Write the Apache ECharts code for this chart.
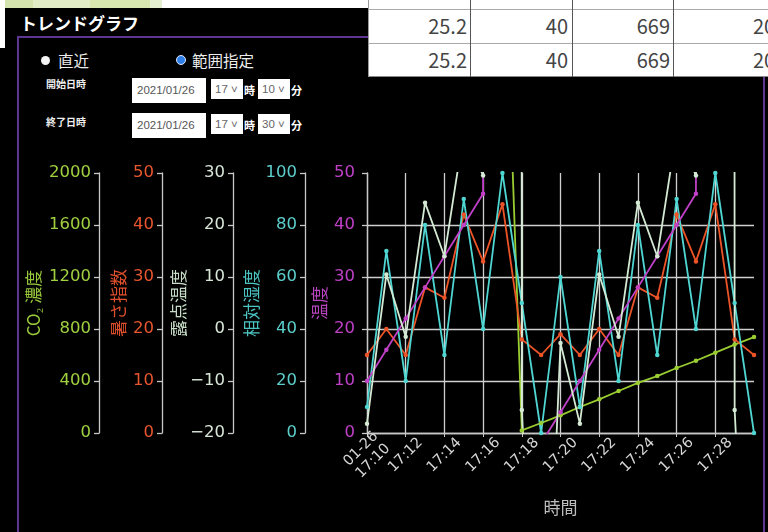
<!DOCTYPE html>
<html><head><meta charset="utf-8">
<script src="https://cdn.jsdelivr.net/npm/echarts@6/dist/echarts.min.js"></script>
<style>
html,body{margin:0;padding:0;width:768px;height:532px;overflow:hidden;background:#000;font-family:"Noto Sans CJK JP","Noto Sans",sans-serif;}
.abs{position:absolute;}
#topGreen{left:0;top:0;width:162px;height:8px;background:linear-gradient(to right,#d5e4ae 0,#d5e4ae 33px,#e2ecc6 33px,#e2ecc6 90px,#d8e6b0 90px,#d8e6b0 150px,#e4eed0 150px);}
#topWhite{left:162px;top:0;width:606px;height:8px;background:#fff;}
#leftWhite{left:0;top:0;width:5px;height:48px;background:#fff;}
#title{left:20px;top:11px;color:#fff;font-weight:bold;font-size:17px;line-height:24px;}
#box{left:17px;top:36px;width:744px;height:600px;border:2px solid #5e3691;}
.radio{width:9px;height:9px;border-radius:50%;}
.rtxt{color:#eee;font-size:15.5px;line-height:20px;}
.lbl{color:#eee;font-size:10px;font-weight:bold;line-height:14px;}
.inp{background:#fff;color:#555;font-family:"Liberation Sans",sans-serif;font-size:11.5px;line-height:24px;padding-left:5px;box-sizing:border-box;}
.sel{background:#fff;color:#666;font-family:"Liberation Sans",sans-serif;font-size:11.5px;line-height:20px;padding-left:4px;box-sizing:border-box;}
.unit{color:#fff;font-size:11px;font-weight:bold;line-height:14px;}
#table{left:368px;top:0;width:400px;height:77px;background:#fff;border-left:1px solid #999;box-sizing:border-box;}
.hl{height:1px;background:#aaa;}
.vl{width:1px;background:#555;}
.cell{color:#444;font-size:20px;line-height:24px;text-align:right;font-family:"Noto Sans CJK JP","Noto Sans",sans-serif;}
#chart{left:0;top:0;width:768px;height:532px;z-index:2;}
</style></head>
<body>
<div class="abs" id="topGreen"></div>
<div class="abs" id="topWhite"></div>
<div class="abs" id="leftWhite"></div>
<div class="abs" id="title">トレンドグラフ</div>
<div class="abs" id="box"></div>

<div class="abs radio" style="left:41px;top:56px;background:#f4f4f4;"></div>
<div class="abs rtxt" style="left:58px;top:50px;">直近</div>
<div class="abs radio" style="left:176px;top:55px;background:#2f7fe8;border:1.5px solid #dfe9ff;width:8px;height:8px;"></div>
<div class="abs rtxt" style="left:192px;top:50px;">範囲指定</div>

<div class="abs lbl" style="left:46px;top:77px;">開始日時</div>
<div class="abs inp" style="left:132px;top:78px;width:74px;height:25px;">2021/01/26</div>
<div class="abs sel" style="left:211px;top:79px;width:32px;height:20px;">17 ˅</div>
<div class="abs unit" style="left:244px;top:83px;">時</div>
<div class="abs sel" style="left:258px;top:79px;width:32px;height:20px;">10 ˅</div>
<div class="abs unit" style="left:291px;top:83px;">分</div>

<div class="abs lbl" style="left:46px;top:115px;">終了日時</div>
<div class="abs inp" style="left:132px;top:113px;width:74px;height:25px;">2021/01/26</div>
<div class="abs sel" style="left:211px;top:114px;width:32px;height:20px;">17 ˅</div>
<div class="abs unit" style="left:244px;top:118px;">時</div>
<div class="abs sel" style="left:258px;top:114px;width:32px;height:20px;">30 ˅</div>
<div class="abs unit" style="left:291px;top:118px;">分</div>

<div class="abs" id="table">
  <div class="abs hl" style="left:0;top:9px;width:400px;"></div>
  <div class="abs hl" style="left:0;top:43px;width:400px;"></div>
  <div class="abs hl" style="left:0;top:76px;width:400px;background:#888;"></div>
  <div class="abs vl" style="left:101px;top:0;height:77px;"></div>
  <div class="abs vl" style="left:203px;top:0;height:77px;"></div>
  <div class="abs vl" style="left:304px;top:0;height:77px;"></div>
  <div class="abs cell" style="left:0;top:14px;width:98px;">25.2</div>
  <div class="abs cell" style="left:102px;top:14px;width:97px;">40</div>
  <div class="abs cell" style="left:204px;top:14px;width:97px;">669</div>
  <div class="abs cell" style="left:384px;top:14px;width:40px;text-align:left;">20</div>
  <div class="abs cell" style="left:0;top:48px;width:98px;">25.2</div>
  <div class="abs cell" style="left:102px;top:48px;width:97px;">40</div>
  <div class="abs cell" style="left:204px;top:48px;width:97px;">669</div>
  <div class="abs cell" style="left:384px;top:48px;width:40px;text-align:left;">20</div>
</div>

<div class="abs" id="chart"></div>
<script>
// ---- data (one point per minute, 2021-01-26); null = no reading ----
const times = ['17:10','17:11','17:12','17:13','17:14','17:15','17:16','17:17','17:18','17:19','17:20',
               '17:21','17:22','17:23','17:24','17:25','17:26','17:27','17:28','17:29','17:30'];
const co2 = [null,null,null,null,null,null,null,4260,20,77,136,200,259,323,385,438,500,556,618,680,738];
const heatIndex = [15,20,15,28,26,42,33,44,18,15,19,15,20,15,28,26,42,33,44,18,15];
const dewPoint = [-18.2,10.5,-1.5,24.3,14,38,29.5,9000,-15.6,-90,-2.7,-18.2,10.5,-1.5,24.3,14,38,29.5,9000,-15.6,-90];
const humidity = [10,70,20,80,30,90,40,100,50,0,60,10,70,20,80,30,90,40,100,50,0];
const temperature = [10,16,22,28,34,40,46,9999,null,-2,4,10,16,22,28,34,40,46,9999,null,-2];
const xTickLabels = ['01-26\n17:10','17:12','17:14','17:16','17:18','17:20','17:22','17:24','17:26','17:28'];
const co2Ticks = [0,400,800,1200,1600,2000];

const C = {co2:'#9acd32', heat:'#ec5428', dew:'#d4ead4', rh:'#4fd6d2', temp:'#c040c8'};
const minuteOf = t => parseInt(t.split(':')[1],10) - 10;
const pairs = arr => times.map((t,i)=>[minuteOf(t), arr[i]]);

const chart = echarts.init(document.getElementById('chart'), null, {renderer:'canvas'});
const numFont = 'DejaVu Sans';
const nameFont = 'Noto Sans CJK JP';
const plain = v => String(v).replace('-', '\u2212');
function yAx(o){
  return Object.assign({
    type:'value', position:'left',
    axisLine:{show:true, lineStyle:{color:'#c8c8c8', width:1.3}},
    axisTick:{show:true, length:5, lineStyle:{color:'#c8c8c8', width:1.3}},
    splitLine:{show:false},
    nameLocation:'middle', nameRotate:90, nameMoveOverlap:false,
  }, o);
}
function lab(color){ return {color:color, fontFamily:numFont, fontSize:16.5, margin:8, formatter:plain}; }
function nm(color){ return {color:color, fontFamily:nameFont, fontSize:17}; }
const option = {
  backgroundColor:'transparent',
  animation:false,
  grid:{left:367, right:14, top:173, bottom:99, containLabel:false},
  xAxis:{
    type:'value', min:0, max:20, interval:2,
    name:'時間', nameLocation:'middle', nameGap:66, nameMoveOverlap:false,
    nameTextStyle:{color:'#bdbdbd', fontFamily:nameFont, fontSize:17},
    axisLine:{show:true, lineStyle:{color:'#c8c8c8', width:1.3}},
    axisTick:{show:true, length:4, lineStyle:{color:'#c8c8c8'}},
    axisLabel:{rotate:45, margin:22, align:'center', verticalAlign:'middle', color:'#d6d6d6',
      fontFamily:numFont, fontSize:14.5, lineHeight:17, showMinLabel:true, showMaxLabel:false, hideOverlap:false,
      formatter:v=> (v%2===0 && v/2 < xTickLabels.length) ? xTickLabels[v/2] : ''},
    splitLine:{show:true, showMaxLine:false, lineStyle:{color:'#cfcfcf', width:1.3}}
  },
  yAxis:[
    yAx({min:0,max:50,interval:10,offset:4,name:'温度',nameGap:35,nameTextStyle:nm('#b844c0'),
      axisLabel:lab(C.temp),
      splitLine:{show:true,showMaxLine:false,lineStyle:{color:'#cfcfcf',width:1.3}}}),
    yAx({min:0,max:100,interval:20,offset:62,name:'相対湿度',nameGap:45,nameTextStyle:nm('#4cc4c2'),
      axisLabel:lab('#5ccfcc')}),
    yAx({min:-20,max:30,interval:10,offset:134,name:'露点温度',nameGap:46,nameTextStyle:nm('#c6dcc6'),
      axisLabel:lab('#d8e6d8')}),
    yAx({min:0,max:50,interval:10,offset:205,name:'暑さ指数',nameGap:35,nameTextStyle:nm('#e0502c'),
      axisLabel:lab('#e8562e')}),
    yAx({min:co2Ticks[0],max:co2Ticks[co2Ticks.length-1],interval:co2Ticks[1]-co2Ticks[0],offset:268,
      name:'CO\u2082 濃度',nameGap:57,nameTextStyle:nm('#98c83a'),
      axisLabel:lab('#a0d040')})
  ],
  series:[
    {name:'CO2', data:pairs(co2), yAxisIndex:4, color:C.co2},
    {name:'暑さ指数', data:pairs(heatIndex), yAxisIndex:3, color:C.heat},
    {name:'相対湿度', data:pairs(humidity), yAxisIndex:1, color:C.rh},
    {name:'温度', data:pairs(temperature), yAxisIndex:0, color:C.temp},
    {name:'露点温度', data:pairs(dewPoint), yAxisIndex:2, color:C.dew}
  ].map(s=>Object.assign({
    type:'line', clip:true, connectNulls:false, symbol:'circle', symbolSize:4.5, showSymbol:true,
    lineStyle:{width:1.8, color:s.color}, itemStyle:{color:s.color}
  }, s))
};
chart.setOption(option);
</script>
</body></html>
